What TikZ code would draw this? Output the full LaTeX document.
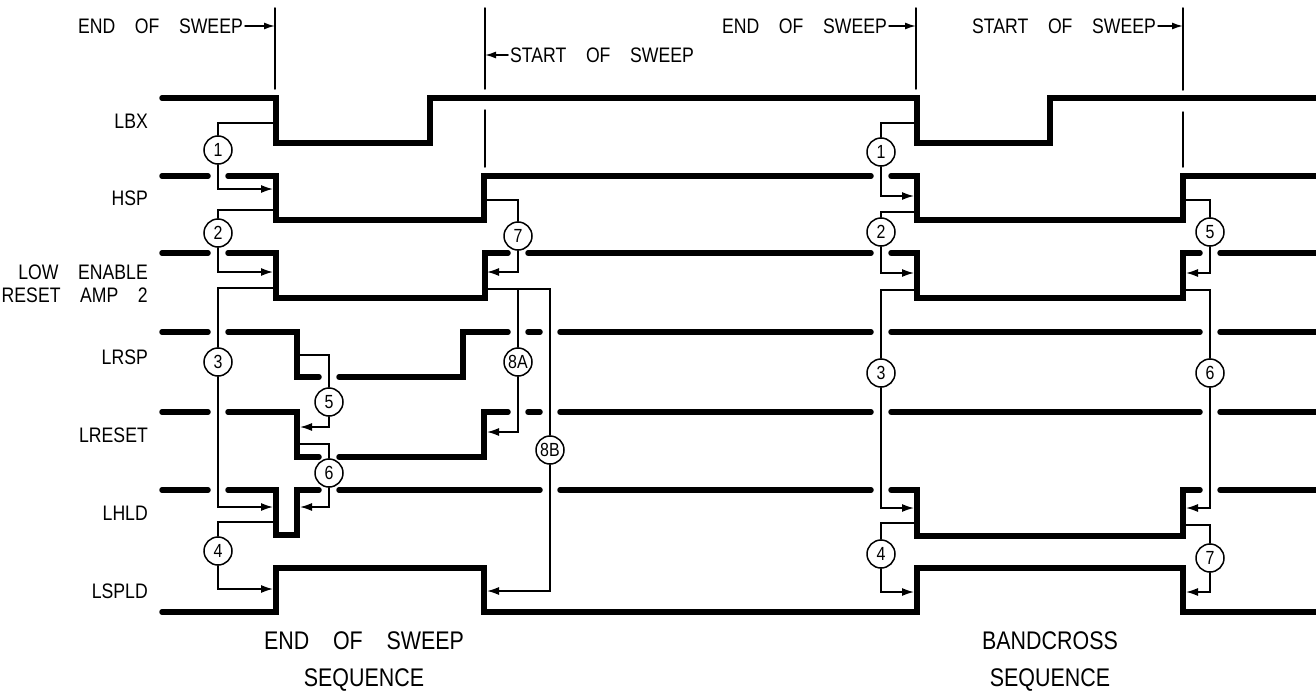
\documentclass[tikz,border=0pt]{standalone}
\usepackage{fontspec}
\setmainfont{Liberation Sans}[FakeStretch=0.84, WordSpace=4]
\usetikzlibrary{arrows.meta}

\begin{document}
\begin{tikzpicture}[x=1pt, y=-1pt, line cap=round,
    sig/.style={line width=5.5pt},
    wire/.style={line width=1.5pt},
    tip/.style={wire, -{Latex[length=12pt,width=8pt]}},
    flag/.style={wire, -{Latex[length=11pt,width=7pt]}},
    seqno/.style={circle, draw, line width=1.5pt, fill=white, minimum size=28pt,
      inner sep=0pt, font=\fontsize{19}{19}\selectfont},
    lbl/.style={anchor=east, inner sep=0pt, align=right, font=\fontsize{21}{23}\selectfont},
    note/.style={inner sep=0pt, font=\fontsize{21}{23}\selectfont},
    caption/.style={inner sep=0pt, align=center, font=\fontsize{25.5}{37}\selectfont}]
  \useasboundingbox (0,0) rectangle (1316,693);

  % signal names
  \foreach \y/\l [count=\i] in {121/LBX, 198/HSP, 283.5/{LOW ENABLE\\RESET AMP 2},
      357/LRSP, 435/LRESET, 513/LHLD, 591/LSPLD}
    \node[lbl] (sn\i) at (148,\y) {\l};

  % sweep markers
  \coordinate (m1) at (275,8);
  \coordinate (m2) at (485,8);
  \coordinate (m3) at (916,8);
  \coordinate (m4) at (1183,8);
  \draw[wire] (m1) -- ++(0,81);
  \draw[wire] (m2) -- ++(0,81) (485,110) -- (485,167);
  \draw[wire] (m3) -- ++(0,81);
  \draw[wire] (m4) -- ++(0,82) (1183,112) -- (1183,167);
  \node[note, anchor=east] (eos1) at (243,26) {END OF SWEEP};
  \node[note, anchor=west] (sos1) at (510,55) {START OF SWEEP};
  \node[note, anchor=east] (eos2) at (887,26) {END OF SWEEP};
  \node[note, anchor=east] (sos2) at (1156,26) {START OF SWEEP};
  \draw[flag] ([xshift=2pt]eos1.east) -- (eos1.east -| m1);
  \draw[flag] ([xshift=-2pt]sos1.west) -- (sos1.west -| m2);
  \draw[flag] ([xshift=2pt]eos2.east) -- (eos2.east -| m3);
  \draw[flag] ([xshift=2pt]sos2.east) -- (sos2.east -| m4);

  % LBX
  \draw[sig] (162,98) -| (276,143) -| (430,98) -| (917,143) -| (1050,98) -- (1316,98);
  % HSP
  \draw[sig] (162,176) -- (208,176);
  \draw[sig] (228,176) -| (276,220) -| (484,176) -- (871,176);
  \draw[sig] (891,176) -| (917,220) -| (1183,176) -- (1316,176);
  % LOW ENABLE RESET AMP 2
  \draw[sig] (162,253) -- (208,253);
  \draw[sig] (228,253) -| (276,298) -| (485,253) -- (508,253);
  \draw[sig] (528,253) -- (871,253);
  \draw[sig] (891,253) -| (917,298) -| (1183,253) -- (1200,253);
  \draw[sig] (1220,253) -- (1316,253);
  % LRSP
  \draw[sig] (162,332) -- (208,332);
  \draw[sig] (228,332) -| (297,377) -- (319,377);
  \draw[sig] (339,377) -| (463,332) -- (508,332);
  \draw[sig] (528,332) -- (540,332) (560,332) -- (871,332);
  \draw[sig] (891,332) -- (1200,332) (1220,332) -- (1316,332);
  % LRESET
  \draw[sig] (162,412) -- (208,412);
  \draw[sig] (228,412) -| (297,457) -- (319,457);
  \draw[sig] (339,457) -| (484,412) -- (508,412);
  \draw[sig] (528,412) -- (540,412) (560,412) -- (871,412);
  \draw[sig] (891,412) -- (1200,412) (1220,412) -- (1316,412);
  % LHLD
  \draw[sig] (162,490) -- (208,490);
  \draw[sig] (228,490) -| (276,535) -| (297,490) -- (319,490);
  \draw[sig] (339,490) -- (540,490) (560,490) -- (871,490);
  \draw[sig] (891,490) -| (917,536) -| (1183,490) -- (1200,490);
  \draw[sig] (1220,490) -- (1316,490);
  % LSPLD
  \draw[sig] (162,612) -| (276,568) -| (484,612) -| (917,568) -| (1183,612) -- (1316,612);

  % numbered steps: name/text/circle/from/to
  \foreach \n/\t/\cx/\cy/\sx/\sy/\ex/\ey in {
      a1/1/218/150/276/123/273/189,   a2/2/218/233/276/210/273/272,
      a3/3/218/362/276/288/273/507,   a4/4/218/551/276/522/273/589,
      a5/5/329/402/297/355/300/427,   a6/6/329/473/297/444/300/507,
      a7/7/518/236/484/200/487/272,   a8/8A/518/362/485/289/487/432,
      a9/8B/550/450/485/289/487/591,
      b1/1/881/152/917/123/914/196,   b2/2/881/232/917/212/914/273,
      b3/3/881/373/917/290/914/508,   b4/4/881/554/917/523/914/592,
      b5/5/1210/232/1183/200/1186/273, b6/6/1210/373/1183/290/1186/508,
      b7/7/1210/558/1183/525/1186/592} {
    \node[seqno] (c\n) at (\cx,\cy) {\t};
    \coordinate (s\n) at (\sx,\sy);
    \coordinate (e\n) at (\ex,\ey);
    \draw[wire] (s\n) -| (c\n);
    \draw[tip] (c\n) |- (e\n);
  }

  \node[caption] (seq1) at (364,661) {END OF SWEEP\\SEQUENCE};
  \node[caption] (seq2) at (1050,661) {BANDCROSS\\SEQUENCE};
\end{tikzpicture}
\end{document}
